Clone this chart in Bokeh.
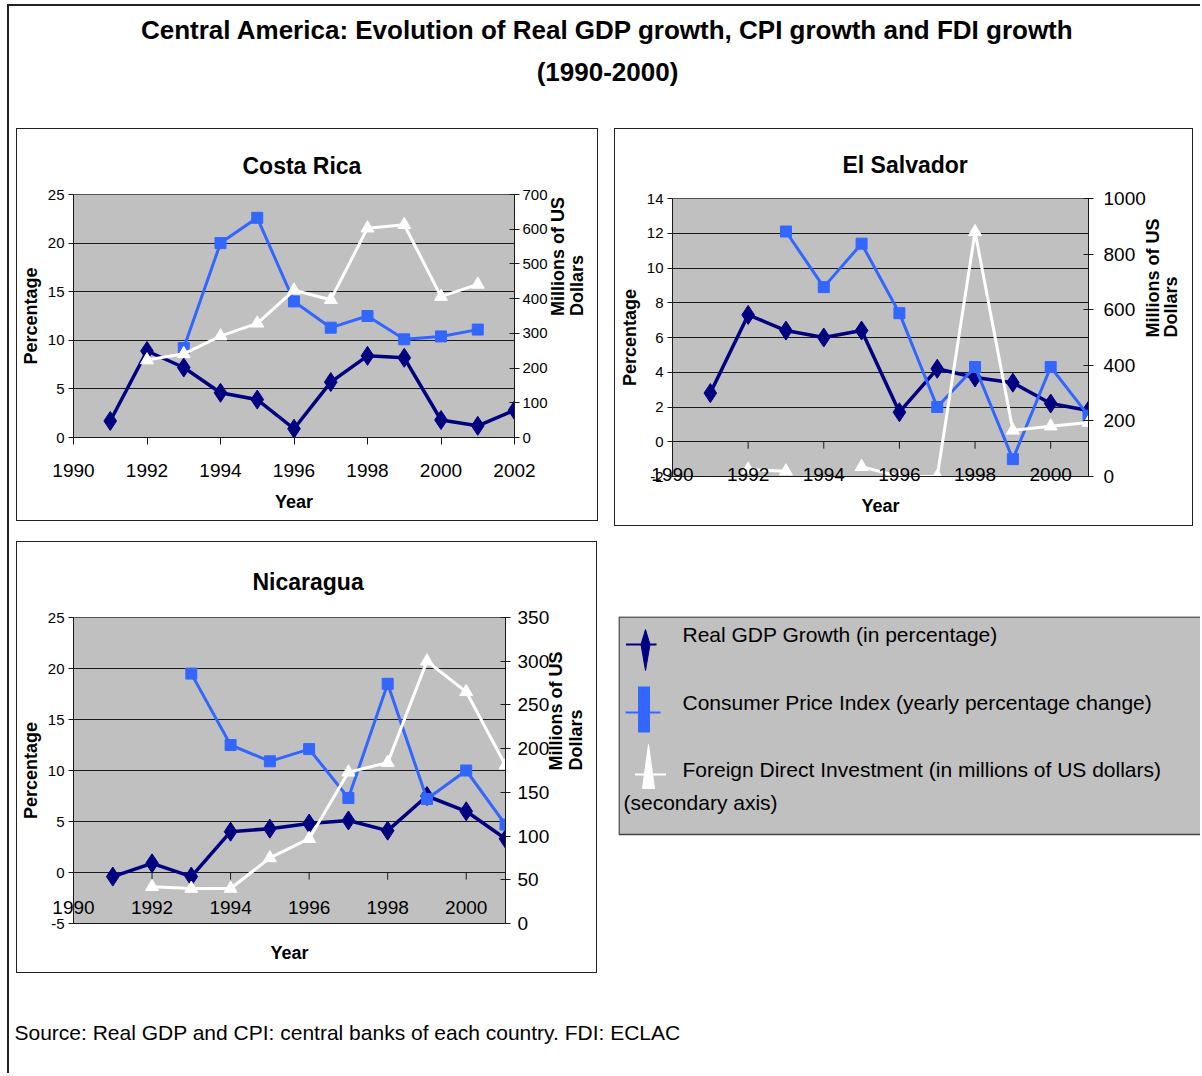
import math
from bokeh.plotting import figure
from bokeh.models import LinearAxis, Range1d, FixedTicker, Spacer
from bokeh.layouts import column, row
from bokeh.embed import file_html
from bokeh.resources import INLINE
from bokeh.core.properties import value

NaN = float("nan")

# ---------------- data ----------------
years_cr = [1991, 1992, 1993, 1994, 1995, 1996, 1997, 1998, 1999, 2000, 2001, 2002]
gdp_cr = [1.7, 8.9, 7.2, 4.6, 3.9, 0.9, 5.7, 8.4, 8.2, 1.8, 1.2, 2.8]
cpi_cr = [NaN, NaN, 9.2, 20.0, 22.6, 14.0, 11.3, 12.5, 10.1, 10.4, 11.1, NaN]
fdi_cr = [NaN, 223, 241, 292, 329, 424, 397, 603, 613, 406, 441, NaN]

years_es = [1991, 1992, 1993, 1994, 1995, 1996, 1997, 1998, 1999, 2000, 2001]
gdp_es = [2.8, 7.3, 6.4, 6.0, 6.4, 1.7, 4.2, 3.7, 3.4, 2.2, 1.8]
cpi_es = [NaN, NaN, 12.1, 8.9, 11.4, 7.4, 2.0, 4.3, -1.0, 4.3, 1.5]
fdi_es = [NaN, 25, 19, NaN, 35, 0, 0, 880, 166, 181, 194]

years_ni = [1991, 1992, 1993, 1994, 1995, 1996, 1997, 1998, 1999, 2000, 2001]
gdp_ni = [-0.4, 0.9, -0.4, 4.0, 4.3, 4.8, 5.1, 4.1, 7.5, 6.0, 3.3]
cpi_ni = [NaN, NaN, 19.5, 12.5, 10.9, 12.1, 7.3, 18.5, 7.2, 10.0, 4.7]
fdi_ni = [NaN, 42, 40, 40, 75, 97, 173, 184, 300, 265, 181]

x_ticks_cr = [1990, 1992, 1994, 1996, 1998, 2000, 2002]
x_ticks_es = [1990, 1992, 1994, 1996, 1998, 2000]
x_ticks_ni = [1990, 1992, 1994, 1996, 1998, 2000]
y_ticks_cr = [0, 5, 10, 15, 20, 25]
y_ticks_es = [-2, 0, 2, 4, 6, 8, 10, 12, 14]
y_ticks_ni = [-5, 0, 5, 10, 15, 20, 25]
r_ticks_cr = [0, 100, 200, 300, 400, 500, 600, 700]
r_ticks_es = [0, 200, 400, 600, 800, 1000]
r_ticks_ni = [0, 50, 100, 150, 200, 250, 300, 350]

main_title = ["Central America: Evolution of Real GDP growth, CPI growth and FDI growth", "(1990-2000)"]
right_axis_title = ["Millions of US", "Dollars"]
legend_labels = ["Real GDP Growth (in percentage)",
                 "Consumer Price Index (yearly percentage change)",
                 "Foreign Direct Investment (in millions of US dollars)",
                 "(secondary axis)"]
source_text = "Source: Real GDP and CPI: central banks of each country. FDI: ECLAC"

FONT = "Liberation Sans"
PLOT_BG = "#C0C0C0"
NAVY = "#000080"
BLUE = "#3366FF"
DARK = "#1a1a1a"
BOX = {"border": "1px solid #222"}


def blank(w, h, xr, yr, top=0, bottom=0):
    p = figure(width=w, height=h, x_range=Range1d(*xr), y_range=Range1d(*yr),
               output_backend="svg", toolbar_location=None,
               x_axis_location=None, y_axis_location=None,
               min_border=0, min_border_left=0, min_border_right=0,
               min_border_top=top, min_border_bottom=bottom)
    p.grid.visible = False
    p.outline_line_color = None
    p.background_fill_color = "white"
    p.border_fill_color = "white"
    return p


def style_label(ax):
    ax.axis_label_orientation = math.pi / 2
    ax.axis_label_text_font = FONT
    ax.axis_label_text_font_size = "18px"
    ax.axis_label_text_font_style = "bold"
    ax.axis_label_text_color = "black"


def chart(title, years, gdp, cpi, fdi, xr, yr, rr, xt, yt, rt, w, h, borders,
          zero_axis, title_off, title_stand, xstand, xlab_stand, rstand, r_fs, tick_len,
          rlab1, rlab2):
    left, right, top, bottom = borders
    p = figure(width=w, height=h, x_range=Range1d(*xr), y_range=Range1d(*yr),
               output_backend="svg", toolbar_location=None, title=title,
               min_border_left=left, min_border_right=right,
               min_border_top=top, min_border_bottom=bottom)
    p.styles = BOX
    p.title.align = "left"
    p.title.offset = title_off
    p.title.standoff = title_stand
    p.title.text_font = FONT
    p.title.text_font_size = "23px"
    p.title.text_font_style = "bold"
    p.title.text_color = "black"
    p.background_fill_color = PLOT_BG
    p.border_fill_color = "white"
    p.outline_line_color = "#555"

    p.xgrid.visible = False
    p.ygrid.ticker = FixedTicker(ticks=yt)
    p.ygrid.grid_line_color = DARK
    p.ygrid.grid_line_width = 1

    xa = p.xaxis[0]
    xa.ticker = FixedTicker(ticks=xt)
    xa.axis_label = "Year"
    xa.axis_label_text_font = FONT
    xa.axis_label_text_font_size = "18px"
    xa.axis_label_text_font_style = "bold"
    xa.axis_label_text_color = "black"
    xa.major_label_text_font = FONT
    xa.major_label_text_font_size = "19px"
    xa.major_label_text_color = "black"
    xa.major_tick_in = 0
    xa.major_tick_out = 0 if zero_axis else 7
    xa.major_tick_line_color = DARK
    xa.minor_tick_line_color = None
    xa.axis_line_color = DARK
    xa.major_label_standoff = xstand
    xa.axis_label_standoff = xlab_stand

    ya = p.yaxis[0]
    ya.ticker = FixedTicker(ticks=yt)
    ya.major_label_overrides = {t: str(t) for t in yt if t < 0}
    ya.axis_label = "Percentage"
    ya.axis_label_text_font = FONT
    ya.axis_label_text_font_size = "18px"
    ya.axis_label_text_font_style = "bold"
    ya.axis_label_text_color = "black"
    ya.major_label_text_font = FONT
    ya.major_label_text_font_size = "15px"
    ya.major_label_text_color = "black"
    ya.major_tick_out = 5
    ya.major_tick_in = 0
    ya.major_tick_line_color = DARK
    ya.minor_tick_line_color = None
    ya.axis_line_color = DARK
    ya.major_label_standoff = 4
    ya.axis_label_standoff = 4

    p.extra_y_ranges = {"fdi": Range1d(*rr)}
    ra = LinearAxis(y_range_name="fdi", ticker=FixedTicker(ticks=rt),
                    axis_label=right_axis_title[0])
    style_label(ra)
    ra.major_label_text_font = FONT
    ra.major_label_text_font_size = r_fs
    ra.major_label_text_color = "black"
    ra.major_tick_out = 5
    ra.major_tick_in = 5
    ra.major_tick_line_color = DARK
    ra.minor_tick_line_color = None
    ra.axis_line_color = DARK
    ra.major_label_standoff = rstand
    ra.axis_label_standoff = rlab1
    p.add_layout(ra, "right")

    # second line of the secondary-axis title
    ra2 = LinearAxis(y_range_name="fdi", ticker=FixedTicker(ticks=[]),
                     axis_label=right_axis_title[1])
    style_label(ra2)
    ra2.axis_line_color = None
    ra2.major_tick_in = 0
    ra2.major_tick_out = 0
    ra2.minor_tick_line_color = None
    ra2.major_label_standoff = 0
    ra2.axis_label_standoff = rlab2
    p.add_layout(ra2, "right")

    if zero_axis:
        # category axis crossing at 0: tick marks hang from the zero line
        p.segment(x0=xt[1:], y0=[0] * (len(xt) - 1), x1=xt[1:], y1=[-tick_len] * (len(xt) - 1),
                  line_color=DARK, line_width=1)

    p.line(years, gdp, line_color=NAVY, line_width=3.5)
    p.scatter(years, gdp, marker="diamond", size=19, fill_color=NAVY, line_color=NAVY)
    p.line(years, cpi, line_color=BLUE, line_width=3)
    p.scatter(years, cpi, marker="square", size=11, fill_color=BLUE, line_color=BLUE)
    p.line(years, fdi, line_color="white", line_width=3, y_range_name="fdi")
    p.scatter(years, fdi, marker="triangle", size=13, fill_color="white",
              line_color="white", y_range_name="fdi")
    return column(p)


cr = chart("Costa Rica", years_cr, gdp_cr, cpi_cr, fdi_cr, (1990, 2002), (0, 25), (0, 700),
           x_ticks_cr, y_ticks_cr, r_ticks_cr, 582, 393, (55, 83, 65, 85),
           False, 169, 32, 19, 12, 3, "15px", 0, 7, -4)
es = chart("El Salvador", years_es, gdp_es, cpi_es, fdi_es, (1990, 2001), (-2, 14), (0, 1000),
           x_ticks_es, y_ticks_es, r_ticks_es, 579, 398, (57, 106, 68, 51),
           True, 170, 41, -9, 12, 10, "19px", 0.4, 4, -5)
ni = chart("Nicaragua", years_ni, gdp_ni, cpi_ni, fdi_ni, (1990, 2001), (-5, 25), (0, 350),
           x_ticks_ni, y_ticks_ni, r_ticks_ni, 581, 432, (54, 93, 75, 51),
           True, 179, 46, -23, 26, 7, "19px", 0.7, 4, -4)

# ---------------- title ----------------
tf = blank(1191, 122, (0, 1191), (122, 0))
tf.text(x=[598, 598], y=[23, 65], text=main_title, text_align="center", text_baseline="middle",
        text_font=value(FONT), text_font_size="26px", text_font_style="bold", text_color="black")

# ---------------- legend (frame matches Nicaragua's frame rows 75..381) ----------------
lg = blank(582, 432, (0, 582), (381, 75), top=75, bottom=51)
lg.quad(left=[0.5], right=[600], top=[75.5], bottom=[293], fill_color=PLOT_BG,
        line_color="#444", line_width=1.5)
lg.line([7.5, 38], [103, 103], line_color=NAVY, line_width=2)
lg.patch([27, 31.5, 27, 22.5], [88, 103, 129, 103], fill_color=NAVY, line_color=NAVY)
lg.line([7, 42], [171, 171], line_color=BLUE, line_width=2)
lg.quad(left=[19.5], right=[31.5], top=[145], bottom=[191], fill_color=BLUE, line_color=None)
lg.line([16.5, 47.5], [233, 233], line_color="white", line_width=2)
lg.patch([30, 36, 24], [203, 247, 247], fill_color="white", line_color="white")
lg.text(x=[64, 64, 64, 5], y=[93, 161, 228, 261], text=legend_labels,
        text_baseline="middle", text_font=value(FONT), text_font_size="21px", text_color="black")

# ---------------- source ----------------
sf = blank(1191, 100, (0, 1191), (100, 0))
sf.text(x=[5], y=[59], text=[source_text], text_baseline="middle",
        text_font=value(FONT), text_font_size="21px", text_color="black")

inner = column(
    tf,
    row(Spacer(width=7, height=398), cr, Spacer(width=16, height=398), es),
    Spacer(width=1191, height=15),
    row(Spacer(width=7, height=432), ni, Spacer(width=21, height=432), column(lg)),
    sf,
    styles={"border-left": "2px solid #222", "border-top": "2px solid #222"},
)
layout = column(Spacer(width=1198, height=4), row(Spacer(width=7, height=1060), inner))

open("out.html", "w").write(file_html(layout, INLINE))
